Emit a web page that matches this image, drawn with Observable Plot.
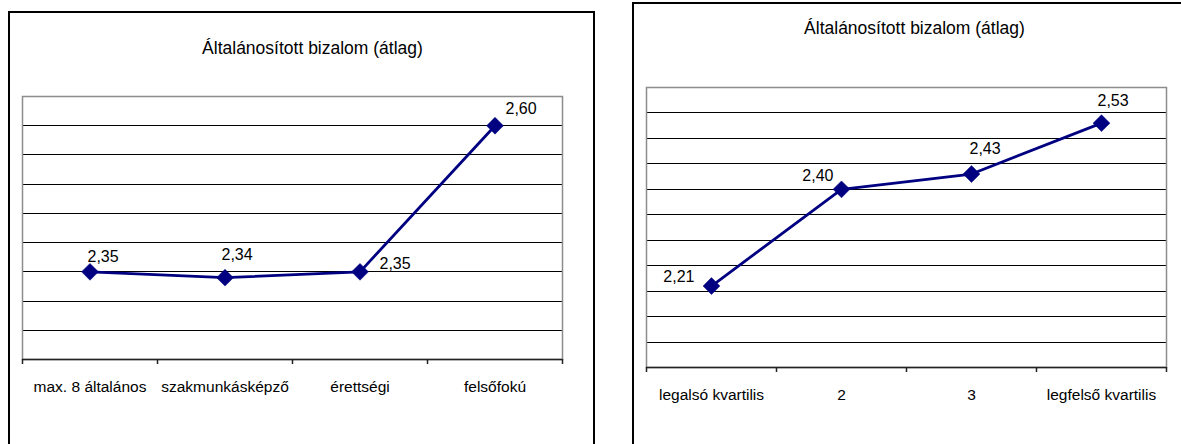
<!DOCTYPE html>
<html>
<head>
<meta charset="utf-8">
<script src="https://cdn.jsdelivr.net/npm/d3@7"></script>
<script src="https://cdn.jsdelivr.net/npm/@observablehq/plot@0.6"></script>
<style>
  html, body { margin: 0; padding: 0; background: #fff; }
  #page { position: relative; width: 1181px; height: 444px; overflow: hidden; background: #fff; font-family: "Liberation Sans", Arial, sans-serif; }
  .panel { position: absolute; border: 2px solid #000; border-bottom: none; box-sizing: border-box; }
  #leftPanel { left: 8px; top: 11px; width: 587px; height: 440px; }
  #rightPanel { left: 632px; top: 2px; width: 600px; height: 450px; }
  .chart { position: absolute; top: 0; }
  #leftChart { left: 0; }
  #rightChart { left: 600px; }
</style>
</head>
<body>
<div id="page">
  <div class="panel" id="leftPanel"></div>
  <div class="panel" id="rightPanel"></div>
  <div class="chart" id="leftChart"></div>
  <div class="chart" id="rightChart"></div>
</div>
<script>
// ---- data ----
const chartTitle = "Általánosított bizalom (átlag)";

const leftCategories = ["max. 8 általános", "szakmunkásképző", "érettségi", "felsőfokú"];
const leftValues = [2.35, 2.34, 2.35, 2.60];
const leftLabels = ["2,35", "2,34", "2,35", "2,60"];
const leftGrid = [2.20, 2.25, 2.30, 2.35, 2.40, 2.45, 2.50, 2.55, 2.60, 2.65];

const rightCategories = ["legalsó kvartilis", "2", "3", "legfelső kvartilis"];
const rightValues = [2.21, 2.40, 2.43, 2.53];
const rightLabels = ["2,21", "2,40", "2,43", "2,53"];
const rightGrid = [2.05, 2.10, 2.15, 2.20, 2.25, 2.30, 2.35, 2.40, 2.45, 2.50, 2.55, 2.60];

// ---- layout (label placement, pixels) ----
const leftLabelPlacement = [
  {dx: -2.5, dy: -10, anchor: "start"},
  {dx: -3.5, dy: -17.5, anchor: "start"},
  {dx: 19.5, dy: -3, anchor: "start"},
  {dx: 10.5, dy: -12, anchor: "start"}
];
const rightLabelPlacement = [
  {dx: -17, dy: -4.5, anchor: "end"},
  {dx: -8, dy: -8, anchor: "end"},
  {dx: -2, dy: -20, anchor: "start"},
  {dx: -4, dy: -17.5, anchor: "start"}
];

const FONT = "'Liberation Sans', Arial, sans-serif";
const NAVY = "#000080";

function makeChart({categories, values, labels, grid, placement, width, margins, titleDx, titleDy}) {
  const idx = categories.map((_, i) => i);
  const ymin = grid[0], ymax = grid[grid.length - 1];
  const inner = grid.slice(1, -1);
  const boundaries = d3.range(categories.length + 1).map(i => i - 0.5);
  return Plot.plot({
    width,
    height: 444,
    marginLeft: margins.left,
    marginRight: margins.right,
    marginTop: margins.top,
    marginBottom: margins.bottom,
    style: {fontFamily: FONT, background: "transparent", color: "#000", overflow: "visible"},
    x: {type: "linear", domain: [-0.5, categories.length - 0.5], axis: null},
    y: {domain: [ymin, ymax], axis: null},
    marks: [
      Plot.ruleY(inner, {stroke: "#000", strokeWidth: 1, shapeRendering: "crispEdges"}),
      Plot.frame({stroke: "#8c8c8c", strokeWidth: 1.5}),
      Plot.ruleY([ymin], {stroke: "#222", strokeWidth: 1.5}),
      Plot.axisX({ticks: boundaries, tickSize: 5, tickFormat: () => "", stroke: "#222", strokeWidth: 1.5}),
      Plot.axisX({ticks: idx, tickSize: 0, tickPadding: 21, tickFormat: i => categories[i],
        fontSize: 15.5, fill: "#000", style: "letter-spacing:-0.3px"}),
      Plot.line(idx, {x: d => d, y: d => values[d], stroke: NAVY, strokeWidth: 2.8}),
      Plot.dot(idx, {x: d => d, y: d => values[d], symbol: "diamond2", r: 7.6, fill: NAVY, stroke: NAVY, strokeWidth: 0.5}),
      ...idx.map(i => Plot.text([i], {
        x: d => d, y: d => values[d], text: d => labels[d],
        dx: placement[i].dx, dy: placement[i].dy, textAnchor: placement[i].anchor,
        lineAnchor: "bottom", fontSize: 16, fill: "#000"
      })),
      Plot.text([chartTitle], {frameAnchor: "top", dx: titleDx, dy: titleDy, lineAnchor: "middle",
        fontSize: 17.5, fill: "#000", text: d => d, style: "letter-spacing:-0.2px"})
    ]
  });
}

document.getElementById("leftChart").append(makeChart({
  categories: leftCategories, values: leftValues, labels: leftLabels, grid: leftGrid,
  placement: leftLabelPlacement, width: 600,
  margins: {left: 22, right: 38, top: 96, bottom: 85},
  titleDx: 20, titleDy: -48
}));

document.getElementById("rightChart").append(makeChart({
  categories: rightCategories, values: rightValues, labels: rightLabels, grid: rightGrid,
  placement: rightLabelPlacement, width: 581,
  margins: {left: 46, right: 15, top: 87, bottom: 77},
  titleDx: 8, titleDy: -59
}));
</script>
</body>
</html>
